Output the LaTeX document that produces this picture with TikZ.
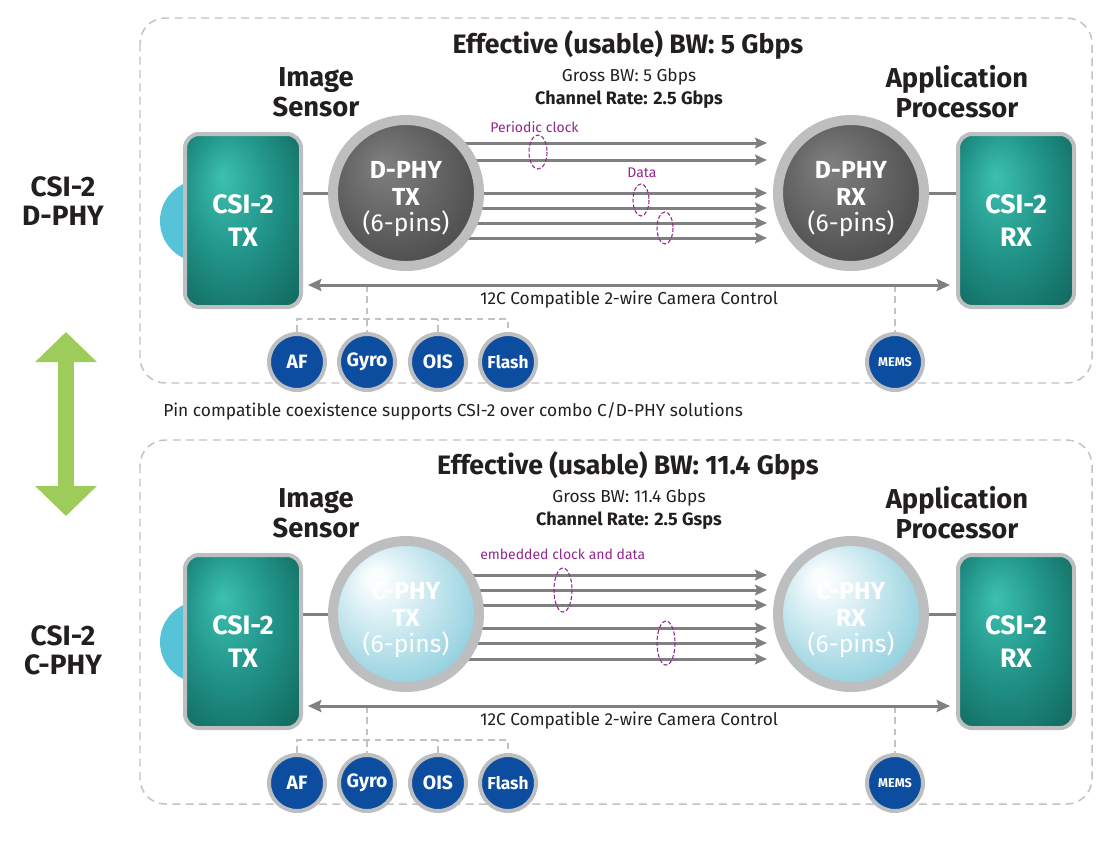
\documentclass[tikz,border=0pt]{standalone}
\usepackage{fontspec}
\setmainfont{Fira Sans}
\usetikzlibrary{arrows.meta, positioning, backgrounds}
\definecolor{ink}{HTML}{231F20}
\definecolor{dashgray}{HTML}{C2C2C2}
\definecolor{ringgray}{HTML}{BDBEC0}
\definecolor{lanegray}{HTML}{808080}
\definecolor{tealA}{HTML}{3CC0B0}
\definecolor{tealM}{HTML}{22958A}
\definecolor{tealB}{HTML}{11685E}
\definecolor{phyA}{HTML}{808080}
\definecolor{phyB}{HTML}{4A4A4A}
\definecolor{iceA}{HTML}{FAFDFE}
\definecolor{iceB}{HTML}{86CBDB}
\definecolor{sky}{HTML}{57C3D8}
\definecolor{devblue}{HTML}{0D4D9F}
\definecolor{clkpurple}{HTML}{92278F}
\definecolor{swgreen}{HTML}{9DCC5B}
\pgfdeclareradialshading{tealglow}{\pgfpoint{-9bp}{13bp}}{color(0bp)=(tealA); color(18bp)=(tealM); color(38bp)=(tealB); color(50bp)=(tealB)}
\pgfdeclareradialshading{darkglow}{\pgfpoint{-8bp}{10bp}}{color(0bp)=(phyA); color(32bp)=(phyB); color(50bp)=(phyB)}
\pgfdeclareradialshading{iceglow}{\pgfpoint{-11bp}{13bp}}{color(0bp)=(iceA); color(3bp)=(iceA); color(34bp)=(iceB); color(50bp)=(iceB)}

\begin{document}
\begin{tikzpicture}[x=0.75pt, y=-0.75pt, text=ink,
    panel/.style={draw=dashgray, line width=1.1pt, dash pattern=on 6pt off 4pt, rounded corners=19pt},
    title/.style={inner sep=0pt, font=\fontsize{20pt}{24pt}\selectfont\bfseries},
    head/.style={inner sep=0pt, align=center, font=\fontsize{20.5pt}{22.5pt}\selectfont\bfseries},
    gross/.style={inner sep=0pt, font=\fontsize{13pt}{15pt}\selectfont},
    rate/.style={inner sep=0pt, font=\fontsize{13.5pt}{15pt}\selectfont\bfseries},
    csibox/.style={draw=ringgray, line width=3pt, rounded corners=10.5pt, inner sep=0pt,
                   minimum width=87pt, minimum height=129.75pt, shade, shading=tealglow,
                   text=white, align=center, font=\fontsize{20pt}{25pt}\selectfont\bfseries},
    phyring/.style={circle, draw=ringgray, line width=7.5pt, minimum size=109.5pt, inner sep=0pt,
                    text=white, align=center, font=\fontsize{18.5pt}{20pt}\selectfont},
    dphy/.style={phyring, shade, shading=darkglow},
    cphy/.style={phyring, shade, shading=iceglow},
    dev/.style={circle, draw=ringgray, line width=3pt, fill=devblue, minimum size=42pt, inner sep=0pt,
                text=white, font=\fontsize{14.5pt}{16pt}\selectfont\bfseries},
    ctltxt/.style={inner sep=0pt, font=\fontsize{13pt}{15pt}\selectfont},
    note/.style={inner sep=0pt, text=clkpurple, font=\fontsize{10.5pt}{12pt}\selectfont},
    side/.style={inner sep=0pt, align=center, font=\fontsize{21pt}{22pt}\selectfont\bfseries},
    lane/.style={draw=lanegray, line width=2.25pt, -{Stealth[length=9pt,width=8pt,inset=1.5pt]}, shorten >=4.5pt},
    wire/.style={draw=lanegray, line width=2.25pt},
    ctl/.style={draw=lanegray, line width=2.25pt, {Stealth[length=10pt,width=9pt,inset=1.5pt]}-{Stealth[length=10pt,width=9pt,inset=1.5pt]},
                shorten <=3.75pt, shorten >=4.5pt},
    bus/.style={draw=dashgray, line width=1.1pt, dash pattern=on 5pt off 3.5pt},
    clk/.style={draw=clkpurple, line width=0.8pt, dash pattern=on 3pt off 1.5pt},
    greenarr/.style={draw=swgreen, line width=12pt, {Triangle[length=22.5pt,width=45pt]}-{Triangle[length=22.5pt,width=45pt]}}
]
\useasboundingbox (0,0) rectangle (1112,840);

% ---------- CSI-2 over D-PHY ----------
\node[title] (ttl1) at (628,45) {Effective (usable) BW: 5 Gbps};
\node[head] (isen1) at (316,92) {Image\\Sensor};
\node[head] (apro1) at (957,92) {Application\\Processor};
\node[gross] (gbw1) at (629,77) {Gross BW: 5 Gbps};
\node[rate] (crt1) at (629,100) {Channel Rate: 2.5 Gbps};
\node[csibox] (tx1) at (243,220.5) {CSI-2\\TX};
\node[csibox] (rx1) at (1016,220.5) {CSI-2\\RX};
\node[dphy] (ptx1) at (406,193) {\rule{0pt}{22pt}\textbf{D-PHY}\\\textbf{TX}\\(6-pins)};
\node[dphy] (prx1) at (851,193) {\rule{0pt}{22pt}\textbf{D-PHY}\\\textbf{RX}\\(6-pins)};
\coordinate (ctl1) at (628,285);
\coordinate (bus1) at (0,319);
\node[ctltxt] (ctllab1) at (629,300) {12C Compatible 2-wire Camera Control};
\node[dev] (af1) at (297,362) {AF};
\node[dev] (gyro1) at (367,362) {Gyro};
\node[dev] (ois1) at (438,362) {OIS};
\node[dev, font=\fontsize{13pt}{15pt}\selectfont\bfseries] (flash1) at (508,362) {Flash};
\node[dev, font=\fontsize{9.5pt}{11pt}\selectfont\bfseries] (mems1) at (895,362) {MEMS};
\node[note, anchor=west] (pclk) at (490,127) {Periodic clock};
\node[note] (data) at (642,173) {Data};
\draw[clk] (538,152) ellipse [x radius=9, y radius=17];
\draw[clk] (641,200) ellipse [x radius=8, y radius=16];
\draw[clk] (665,228) ellipse [x radius=8, y radius=16];
\draw[ctl] (tx1.east |- ctl1) -- (rx1.west |- ctl1);

\begin{scope}[on background layer]
  \draw[panel] (140,18) rectangle (1092,383);
  \fill[sky] (201,221) circle [radius=30.75pt];
  \foreach \y in {143,160,193,208,223,238}
    \draw[lane] (ptx1.center |- 0,\y) -- (prx1.west |- 0,\y);
  \draw[wire] (tx1.east |- ptx1.center) -- (ptx1.center);
  \draw[wire] (prx1.center) -- (rx1.west |- prx1.center);
  \draw[bus] (gyro1.north |- ctl1) -- (gyro1.north);
  \draw[bus] (af1.north) -- (af1.north |- bus1) -- (flash1.north |- bus1) -- (flash1.north);
  \draw[bus] (ois1.north) -- (ois1.north |- bus1);
  \draw[bus] (mems1.north |- ctl1) -- (mems1.north);
\end{scope}

% ---------- middle ----------
\node[side] (dlab) at (63,201) {CSI-2\\D-PHY};
\node[side] (clab) at (63,650) {CSI-2\\C-PHY};
\coordinate (swtop) at (66,332);
\coordinate (swbot) at (66,516);
\draw[greenarr] (swtop) -- (swbot);
\node[ctltxt, anchor=west] (combo) at (163,411) {Pin compatible coexistence supports CSI-2 over combo C/D-PHY solutions};

% ---------- CSI-2 over C-PHY ----------
\node[title] (ttl2) at (628,466) {Effective (usable) BW: 11.4 Gbps};
\node[head] (isen2) at (316,513) {Image\\Sensor};
\node[head] (apro2) at (957,513) {Application\\Processor};
\node[gross] (gbw2) at (629,498) {Gross BW: 11.4 Gbps};
\node[rate] (crt2) at (629,521) {Channel Rate: 2.5 Gsps};
\node[csibox] (tx2) at (243,641.5) {CSI-2\\TX};
\node[csibox] (rx2) at (1016,641.5) {CSI-2\\RX};
\node[cphy] (ptx2) at (406,614) {\rule{0pt}{22pt}\textbf{C-PHY}\\\textbf{TX}\\(6-pins)};
\node[cphy] (prx2) at (851,614) {\rule{0pt}{22pt}\textbf{C-PHY}\\\textbf{RX}\\(6-pins)};
\coordinate (ctl2) at (628,706);
\coordinate (bus2) at (0,740);
\node[ctltxt] (ctllab2) at (629,721) {12C Compatible 2-wire Camera Control};
\node[dev] (af2) at (297,783) {AF};
\node[dev] (gyro2) at (367,783) {Gyro};
\node[dev] (ois2) at (438,783) {OIS};
\node[dev, font=\fontsize{13pt}{15pt}\selectfont\bfseries] (flash2) at (508,783) {Flash};
\node[dev, font=\fontsize{9.5pt}{11pt}\selectfont\bfseries] (mems2) at (895,783) {MEMS};
\node[note, anchor=west] (ecd) at (480,554) {embedded clock and data};
\draw[clk] (563,590) ellipse [x radius=9, y radius=22];
\draw[clk] (666,643) ellipse [x radius=9, y radius=22];
\draw[ctl] (tx2.east |- ctl2) -- (rx2.west |- ctl2);

\begin{scope}[on background layer]
  \draw[panel] (140,440) rectangle (1092,804);
  \fill[sky] (201,642) circle [radius=30.75pt];
  \foreach \y in {575,590,605,628,643,659}
    \draw[lane] (ptx2.center |- 0,\y) -- (prx2.west |- 0,\y);
  \draw[wire] (tx2.east |- ptx2.center) -- (ptx2.center);
  \draw[wire] (prx2.center) -- (rx2.west |- prx2.center);
  \draw[bus] (gyro2.north |- ctl2) -- (gyro2.north);
  \draw[bus] (af2.north) -- (af2.north |- bus2) -- (flash2.north |- bus2) -- (flash2.north);
  \draw[bus] (ois2.north) -- (ois2.north |- bus2);
  \draw[bus] (mems2.north |- ctl2) -- (mems2.north);
\end{scope}
\end{tikzpicture}
\end{document}
